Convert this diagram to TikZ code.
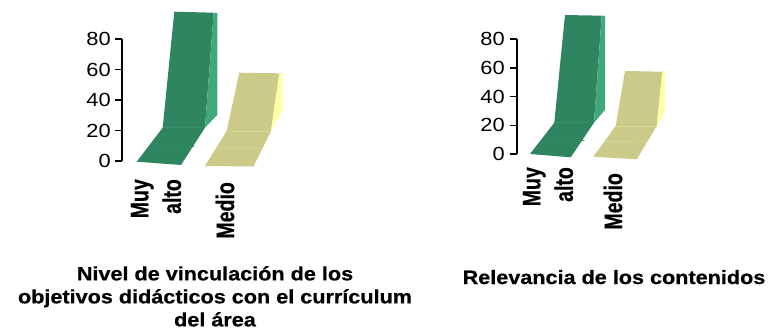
\documentclass[tikz,border=0pt]{standalone}
\usepackage{fontspec}
\setmainfont{Liberation Sans}[BoldFeatures={FakeBold=0.6}]
\usepackage{xcolor}

\definecolor{areagreen}{RGB}{46,133,96}
\definecolor{areagreenside}{RGB}{64,168,122}
\definecolor{areayellow}{RGB}{203,202,136}
\definecolor{areayellowside}{RGB}{255,255,168}

\tikzset{
  ticklabel/.style={anchor=east, inner sep=0pt, xscale=1.15, font=\fontsize{19}{22}\selectfont},
  catlabel/.style={anchor=east, inner sep=0pt, align=right, xscale=1.3, rotate=90, font=\bfseries\fontsize{19.5}{25}\selectfont},
  charttitle/.style={inner sep=0pt, align=center, xscale=1.12, font=\bfseries\fontsize{19.3}{23}\selectfont},
  axisline/.style={line width=1.6pt},
  greenfacet/.style={line width=0.6pt, areagreenside!30!areagreen},
  yellowfacet/.style={line width=0.6pt, areayellowside!30!areayellow}
}

\begin{document}
\begin{tikzpicture}[x=1pt,y=-1pt]
\useasboundingbox (0,0) rectangle (774,329);

% Left chart: value axis
\draw[axisline] (122,39) -- (122,161);
\foreach \v in {0,20,...,80}{
  \draw[axisline] (115,{161-1.525*\v}) -- (122,{161-1.525*\v});
  \node[ticklabel] (ltick\v) at (111,{161-1.525*\v}) {\v};
}

% Left chart: green area (Muy alto)
\fill[areagreen] (136.7,161.7) -- (162.7,127.7) -- (174.3,11.7) -- (213.7,12.7)
    -- (205,127.7) -- (181,165) -- cycle;
\fill[areagreenside] (213.7,12.7) -- (217.3,13.3) -- (217.3,115) -- (205,127.7) -- cycle;
\draw[greenfacet] (162.7,127.7) -- (205,127.7);
\draw[greenfacet] (149.5,145.5) -- (194,146.5);

% Left chart: yellow area (Medio)
\fill[areayellow] (205,166) -- (226.7,131) -- (239.3,72.7) -- (279.3,73.3)
    -- (271,131) -- (253.5,166.5) -- cycle;
\fill[areayellowside] (279.3,73.3) -- (282.5,73) -- (282.5,110) -- (271,131) -- cycle;
\draw[yellowfacet] (226.7,131) -- (271,131);
\draw[yellowfacet] (216,148) -- (262.5,148.5);

% Left chart: category labels and title
\node[catlabel] (lmuy) at (156,179) {Muy\\alto};
\node[catlabel] (lmedio) at (225,182) {Medio};
\node[charttitle, anchor=north] (ltitle) at (215,266)
    {Nivel de vinculación de los\\objetivos didácticos con el currículum\\del área};

% Right chart: value axis
\draw[axisline] (516.7,39.3) -- (516.7,154);
\foreach \v in {0,20,...,80}{
  \draw[axisline] (510,{154-1.434*\v}) -- (516.7,{154-1.434*\v});
  \node[ticklabel] (rtick\v) at (505,{154-1.434*\v}) {\v};
}

% Right chart: green area (Muy alto)
\fill[areagreen] (530,154) -- (554.3,122.7) -- (565,15) -- (601.7,15.7)
    -- (594,122.7) -- (570.7,157.3) -- cycle;
\fill[areagreenside] (601.7,15.7) -- (605,16) -- (605,110) -- (594,122.7) -- cycle;
\draw[greenfacet] (554.3,122.7) -- (594,122.7);
\draw[greenfacet] (546.7,139.5) -- (584.3,140.5);

% Right chart: yellow area (Medio)
\fill[areayellow] (593.3,156.7) -- (615.7,126) -- (625,71) -- (662.3,71.7)
    -- (656.7,126) -- (636.7,159.3) -- cycle;
\fill[areayellowside] (662.3,71.7) -- (665,71.5) -- (665,111.7) -- (656.7,126) -- cycle;
\draw[yellowfacet] (615.7,126) -- (656.7,126);
\draw[yellowfacet] (604.5,141.5) -- (646.5,142);

% Right chart: category labels and title
\node[catlabel] (rmuy) at (548,167) {Muy\\alto};
\node[catlabel] (rmedio) at (613,173) {Medio};
\node[charttitle, anchor=base] (rtitle) at (614,284) {Relevancia de los contenidos};
\end{tikzpicture}
\end{document}
